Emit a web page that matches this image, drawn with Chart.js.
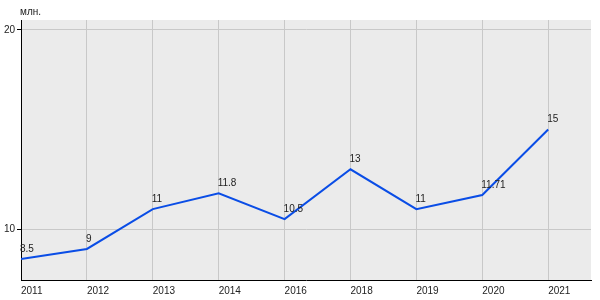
<!DOCTYPE html>
<html lang="ru">
<head>
    <meta charset="UTF-8">
    <title>млн.</title>
    <script src="https://cdn.jsdelivr.net/npm/chart.js"></script>
    <style>
        body { margin: 0; background: #fff; }
        #wrap { width: 600px; height: 300px; }
    </style>
</head>
<body>
    <div id="wrap"><canvas id="chart" width="600" height="300"></canvas></div>

    <script>
        // Daten
        const years = ['2011', '2012', '2013', '2014', '2016', '2018', '2019', '2020', '2021'];
        const values = [8.5, 9, 11, 11.8, 10.5, 13, 11, 11.71, 15];
        const yTicks = [10, 20];
        const unitLabel = 'млн.';

        const FONT = 'Arial, "Liberation Sans", sans-serif';

        // Hintergrund der Zeichenfläche, Werte an den Punkten, Einheit oben links
        const decor = {
            id: 'decor',
            beforeDraw(chart) {
                const a = chart.chartArea;
                const ctx = chart.ctx;
                ctx.save();
                ctx.fillStyle = '#ebebeb';
                ctx.fillRect(a.left, a.top, a.right - a.left, a.bottom - a.top);
                ctx.restore();
            },
            afterDatasetsDraw(chart) {
                const ctx = chart.ctx;
                const meta = chart.getDatasetMeta(0);
                ctx.save();
                ctx.font = '10px ' + FONT;
                ctx.fillStyle = '#222';
                ctx.textAlign = 'left';
                ctx.textBaseline = 'bottom';
                meta.data.forEach((pt, i) => {
                    ctx.fillText(String(values[i]), pt.x - 1, pt.y - 5);
                });
                ctx.textBaseline = 'middle';
                ctx.fillText(unitLabel, chart.chartArea.left - 1, 12);
                ctx.restore();
            }
        };

        new Chart(document.getElementById('chart'), {
            type: 'line',
            data: {
                datasets: [{
                    data: values.map((v, i) => ({ x: i, y: v })),
                    borderColor: '#0a4de6',
                    borderWidth: 2,
                    pointRadius: 0,
                    tension: 0,
                    fill: false
                }]
            },
            options: {
                responsive: false,
                animation: false,
                layout: { padding: { top: 20, right: 9, left: 0, bottom: 0 } },
                plugins: {
                    legend: { display: false },
                    tooltip: { enabled: false }
                },
                scales: {
                    x: {
                        type: 'linear',
                        min: 0,
                        max: 8.65,
                        afterBuildTicks: s => { s.ticks = years.map((_, i) => ({ value: i })); },
                        afterFit: s => { s.height = 20; },
                        grid: { color: '#c8c8c8', drawTicks: false, tickLength: 0 },
                        border: { display: true, color: '#000', width: 1 },
                        ticks: {
                            align: 'start',
                            maxRotation: 0,
                            padding: 5,
                            color: '#222',
                            font: { family: FONT, size: 10 },
                            callback: v => years[v] ?? ''
                        }
                    },
                    y: {
                        min: 7.44,
                        max: 20.5,
                        afterBuildTicks: s => { s.ticks = yTicks.map(v => ({ value: v })); },
                        afterFit: s => { s.width = 21; },
                        grid: { color: '#c8c8c8', tickColor: '#000', tickLength: 4 },
                        border: { display: true, color: '#000', width: 1 },
                        ticks: {
                            padding: 2,
                            color: '#222',
                            font: { family: FONT, size: 10 }
                        }
                    }
                }
            },
            plugins: [decor]
        });
    </script>
</body>
</html>
